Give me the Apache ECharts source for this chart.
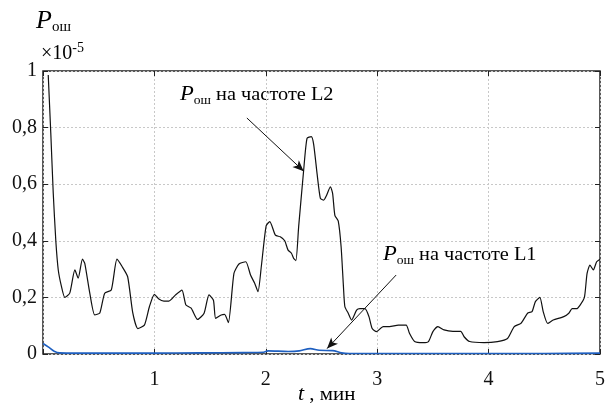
<!DOCTYPE html>
<html><head><meta charset="utf-8">
<script src="https://cdn.jsdelivr.net/npm/echarts@6/dist/echarts.min.js"></script>
<style>html,body{margin:0;padding:0;background:#fff}#c{width:608px;height:409px}</style>
</head><body><div id="c"></div>
<script>
// t (min), P_err ×1e-5 at L2
const l2T = [0.047,0.07,0.092,0.115,0.137,0.165,0.196,0.24,0.286,0.316,0.354,0.375,0.42,0.464,0.51,0.554,0.613,0.664,0.71,0.76,0.806,0.851,0.91,0.955,1.0,1.04,1.085,1.13,1.19,1.247,1.283,1.33,1.387,1.446,1.49,1.53,1.55,1.60,1.63,1.664,1.714,1.759,1.82,1.863,1.90,1.93,1.96,2.003,2.036,2.086,2.13,2.17,2.2,2.23,2.25,2.27,2.295,2.34,2.37,2.408,2.43,2.46,2.49,2.52,2.545,2.58,2.60,2.62,2.65,2.676,2.697,2.71,2.74,2.77,2.815,2.845,2.89,2.926,2.955,2.994,3.054,3.11,3.19,3.26,3.29,3.336,3.41,3.46,3.5,3.545,3.6,3.68,3.75,3.78,3.83,3.96,4.08,4.17,4.23,4.29,4.35,4.39,4.42,4.46,4.49,4.53,4.58,4.675,4.72,4.75,4.79,4.82,4.86,4.884,4.91,4.94,4.97,5.0];
const l2V = [0.986,0.78,0.568,0.40,0.297,0.24,0.20,0.215,0.297,0.268,0.335,0.32,0.215,0.138,0.145,0.215,0.226,0.335,0.309,0.273,0.145,0.09,0.102,0.167,0.211,0.194,0.187,0.187,0.209,0.226,0.173,0.162,0.122,0.144,0.209,0.19,0.126,0.138,0.14,0.111,0.285,0.318,0.326,0.279,0.25,0.22,0.31,0.453,0.468,0.42,0.414,0.40,0.367,0.356,0.338,0.33,0.45,0.65,0.762,0.768,0.74,0.638,0.55,0.544,0.56,0.591,0.567,0.49,0.47,0.379,0.238,0.167,0.144,0.12,0.155,0.16,0.16,0.132,0.09,0.079,0.097,0.097,0.102,0.102,0.073,0.044,0.04,0.044,0.079,0.097,0.085,0.08,0.08,0.061,0.044,0.04,0.044,0.055,0.097,0.108,0.144,0.15,0.185,0.2,0.15,0.108,0.12,0.132,0.144,0.16,0.16,0.172,0.2,0.285,0.314,0.297,0.326,0.335];
// L1
const l1T = [0,0.05,0.1,0.15,0.3,0.6,1.0,1.4,1.8,1.98,2.02,2.2,2.3,2.4,2.48,2.6,2.68,2.75,3.0,3.5,4.0,4.5,5.0];
const l1V = [0.037,0.024,0.01,0.004,0.003,0.003,0.003,0.004,0.005,0.006,0.011,0.009,0.011,0.019,0.013,0.012,0.004,0.002,0.002,0.002,0.002,0.002,0.003];
const yTicks = [0,0.2,0.4,0.6,0.8,1];
const xTicks = [1,2,3,4,5];
const arrowL2 = [[1.83,0.834],[2.34,0.646]];
const arrowL1 = [[3.17,0.279],[2.55,0.019]];

const FONT = '"Liberation Serif","Times New Roman",serif';
const zip = (a,b)=>a.map((v,i)=>[v,b[i]]);
const chart = echarts.init(document.getElementById('c'));
const common = {min:0,type:'value',axisLine:{show:false,onZero:false},
  axisTick:{show:true,inside:true,length:5,lineStyle:{color:'#222',width:1}}};
const rich = {P:{fontFamily:FONT,fontStyle:'italic',fontSize:20,color:'#111'},
  s:{fontFamily:FONT,fontSize:12,color:'#111',padding:[11,0,0,0]},
  t:{fontFamily:FONT,fontSize:18,color:'#111'}};
chart.setOption({
  animation:false,
  grid:{left:43,right:5,top:71,bottom:55,show:true,borderColor:'#222',borderWidth:1.5,backgroundColor:'transparent'},
  xAxis:[Object.assign({},common,{max:5,interval:1,position:'bottom',
    axisLabel:{fontFamily:FONT,fontSize:20,color:'#111',margin:16,formatter:v=>xTicks.includes(v)?String(v):''},
    splitLine:{show:true,lineStyle:{color:'#c8c8c8',type:[2,2]}}}),
    Object.assign({},common,{max:5,interval:1,position:'top',axisLabel:{show:false},splitLine:{show:false}})],
  yAxis:[Object.assign({},common,{max:1,interval:0.2,position:'left',
    axisLabel:{fontFamily:FONT,fontSize:20,color:'#111',margin:6,formatter:v=>yTicks.includes(+v.toFixed(1))?String(+v.toFixed(1)).replace('.',','):''},
    splitLine:{show:true,lineStyle:{color:'#c8c8c8',type:[2,2]}}}),
    Object.assign({},common,{max:1,interval:0.2,position:'right',axisLabel:{show:false},splitLine:{show:false}})],
  series:[
    {type:'line',name:'L2',data:zip(l2T,l2V),showSymbol:false,smooth:0.2,
      lineStyle:{color:'#111',width:1.2},
      markLine:{silent:true,symbol:['none','arrow'],symbolSize:[7,11],label:{show:false},
        lineStyle:{color:'#111',width:1,type:'solid'},
        data:[[{coord:arrowL2[0]},{coord:arrowL2[1]}],[{coord:arrowL1[0]},{coord:arrowL1[1]}]]}},
    {type:'line',name:'L1',data:zip(l1T,l1V),showSymbol:false,smooth:0.3,
      lineStyle:{color:'#1e5fc0',width:1.6}}
  ],
  graphic:[
    {type:'text',left:36,top:8,style:{rich:{P:{fontFamily:FONT,fontStyle:'italic',fontSize:26,color:'#111'},s:{fontFamily:FONT,fontSize:15,color:'#111',padding:[13,0,0,0]}},text:'{P|P}{s|ош}'}},
    {type:'text',left:41,top:41,style:{rich:{a:{fontFamily:FONT,fontSize:20,color:'#111'},b:{fontFamily:FONT,fontSize:14,color:'#111',padding:[0,0,11,0]}},text:'{a|×10}{b|-5}'}},
    {type:'text',left:180,top:85,scaleX:1.13,style:{rich,text:'{P|P}{s|ош}{t| на частоте L2}'}},
    {type:'text',left:383,top:245,scaleX:1.13,style:{rich,text:'{P|P}{s|ош}{t| на частоте L1}'}},
    {type:'text',left:298,top:385,scaleX:1.1,style:{rich:{P:{fontFamily:FONT,fontStyle:'italic',fontSize:20,color:'#111'},t:{fontFamily:FONT,fontSize:19,color:'#111'}},text:'{P|t}{t| , мин}'}}
  ]
});
</script></body></html>
